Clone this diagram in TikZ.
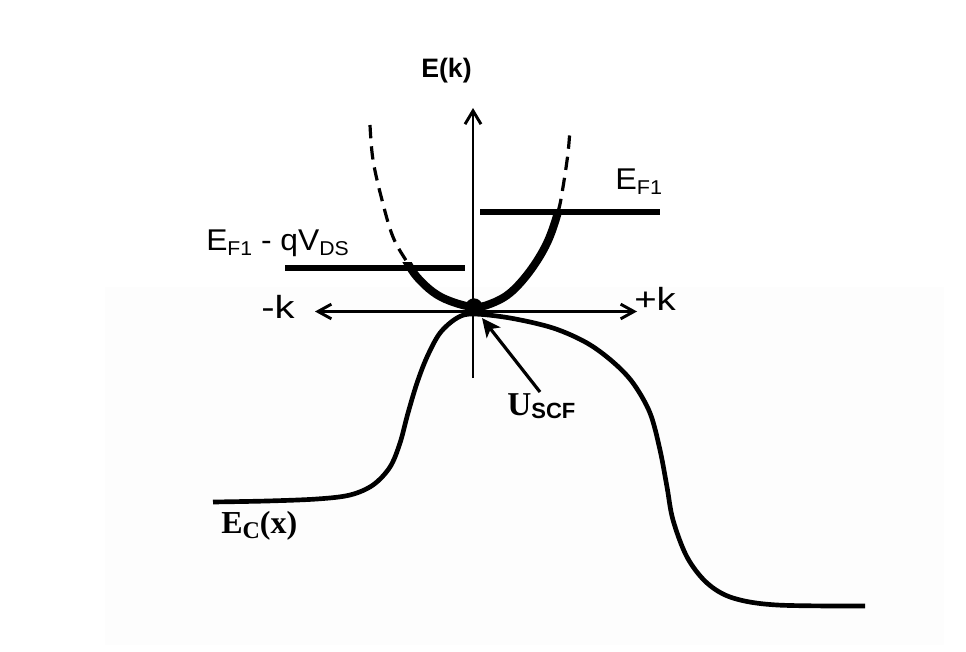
\documentclass[tikz,border=0pt]{standalone}
\usepackage{fontspec}
\setmainfont{Liberation Sans}
\newfontfamily\timesfont{Liberation Serif}
\usetikzlibrary{arrows.meta}
\definecolor{bgc}{RGB}{253,253,253}
\begin{document}
\begin{tikzpicture}[x=0.75pt,y=-0.75pt,
  axisline/.style={line width=2.2pt},
  axend/.style={-{Straight Barb[length=10pt,width=12pt]}},
  axboth/.style={{Straight Barb[length=10pt,width=11pt]}-{Straight Barb[length=10pt,width=11pt]}},
  fermi/.style={line width=3.8pt},
  banddash/.style={line width=2.4pt, dash pattern=on 10pt off 6pt},
  bandthick/.style={line width=6pt},
  ecline/.style={line width=3.5pt, line join=round},
  uarrow/.style={line width=2.4pt, -{Stealth[length=14pt,width=13pt,inset=3.5pt]}},
  lbl/.style={inner sep=0pt, anchor=base west},
  dot/.style={circle, fill=black, inner sep=0pt, minimum size=13pt},
]
\useasboundingbox (0,0) rectangle (966,652);
\fill[bgc] (105,287) rectangle (944,645);

% axes
\coordinate (vbot) at (473,378);
\coordinate (vtop) at (473,108);
\coordinate (hl) at (315,311.5);
\coordinate (hr) at (637,311.5);
\draw[axisline, axend] (vbot) -- (vtop);
\draw[axisline, axboth] (hl) -- (hr);

% Fermi levels
\coordinate (fr1) at (480,212);
\coordinate (fr2) at (660,212);
\coordinate (fl1) at (285,268);
\coordinate (fl2) at (465,268);
\draw[fermi] (fr1) -- (fr2);
\draw[fermi] (fl1) -- (fl2);

% band E(k)
\def\bandpath{plot[smooth, tension=0.6] coordinates {(370,125) (373,160) (382,200) (393,237) (407,262) (417,277) (433,292) (450,301) (473,307) (490,304) (510,293) (530,271) (547,243) (558,212) (563,187) (568,153) (570,128)}}
\draw[banddash] \bandpath;
\begin{scope}
\clip (300,262) -- (473,262) -- (473,212) -- (650,212) -- (650,330) -- (300,330) -- cycle;
\draw[bandthick] \bandpath;
\end{scope}

% conduction band edge
\draw[ecline] plot[smooth, tension=0.55] coordinates {(213,502) (267,501) (317,499) (350,495) (373,485) (390,467) (400,443) (408,413) (417,383) (427,357) (440,333) (457,318) (473,314) (510,318) (553,328) (587,343) (613,362) (633,383) (650,413) (660,450) (667,487) (673,520) (687,557) (707,583) (733,598) (777,605) (865,606)};

\node[dot] (dotc) at (474,307) {};

% labels
\node[lbl] (ek) at (421,78) {\fontsize{20pt}{20pt}\selectfont\bfseries E(k)};
\node[lbl] (ef1) at (615,190) {\scalebox{1.08}[1]{\fontsize{22.5pt}{22.5pt}\selectfont E\raisebox{-3.75pt}{\fontsize{15pt}{15pt}\selectfont F1}}};
\node[lbl] (ef2) at (206,250) {\scalebox{1.06}[1]{\fontsize{22.5pt}{22.5pt}\selectfont E\raisebox{-3.75pt}{\fontsize{15pt}{15pt}\selectfont F1} - qV\raisebox{-3.75pt}{\fontsize{15pt}{15pt}\selectfont DS}}};
\node[lbl] (mk) at (261,318) {\scalebox{1.25}[1]{\fontsize{24pt}{24pt}\selectfont -k}};
\node[lbl] (pk) at (634,310) {\scalebox{1.2}[1]{\fontsize{24pt}{24pt}\selectfont +k}};
\node[lbl] (usc) at (507,415) {{\timesfont\bfseries\fontsize{25pt}{25pt}\selectfont U}\raisebox{-2.5pt}{\fontsize{16.5pt}{16.5pt}\selectfont\bfseries SCF}};
\node[lbl] (ecl) at (221,533) {\timesfont\bfseries\fontsize{24pt}{24pt}\selectfont E\raisebox{-3.75pt}{\fontsize{18pt}{18pt}\selectfont C}(x)};

% U_SCF pointer
\coordinate (utail) at (540,392);
\coordinate (utip) at (482,318);
\draw[uarrow] (utail) -- (utip);
\end{tikzpicture}
\end{document}
